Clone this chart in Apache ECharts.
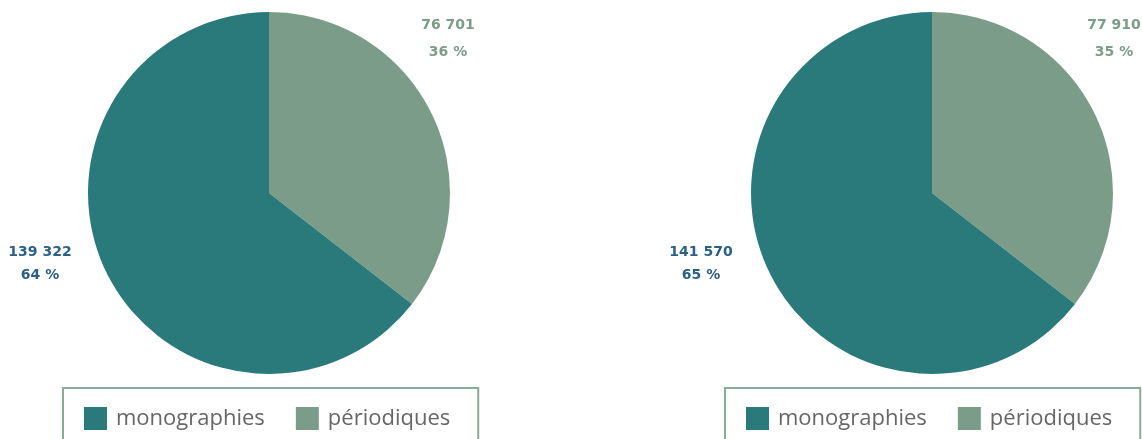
<!DOCTYPE html>
<html><head><meta charset="utf-8">
<script src="https://cdn.jsdelivr.net/npm/echarts@6/dist/echarts.min.js"></script>
<style>html,body{margin:0;padding:0;background:#fff}#c{width:1142px;height:439px}</style>
</head><body><div id="c"></div>
<script>
const categories = ['périodiques', 'monographies'];
const pie1Values = [76701, 139322];
const pie2Values = [77910, 141570];
const pie1Pct = ['36 %', '64 %'];
const pie2Pct = ['35 %', '65 %'];
const sliceColors = ['#7a9c88', '#2a7a7c'];
const labelColors = ['#7a9c88', '#2a5f86'];
const legendOrder = ['monographies', 'périodiques'];

const labelLineHeights = [27, 23];
function fmt(n){ return String(n).replace(/\B(?=(\d{3})+(?!\d))/g, ' '); }
function buildData(vals, pcts){
  return categories.map((c,i)=>({name:c, value:vals[i], pct:pcts[i],
    itemStyle:{color:sliceColors[i]},
    label:{color:labelColors[i], lineHeight:labelLineHeights[i]}}));
}
const labelPos1 = [[448, 38.5], [40, 263.5]];
const labelPos2 = [[1114, 38.5], [701, 263.5]];

const chart = echarts.init(document.getElementById('c'));
const legendBase = {
  orient:'horizontal', data: legendOrder, itemWidth:23, itemHeight:23, itemGap:31,
  icon:'rect', borderColor:'#8aab98', borderWidth:2, padding:[19,28,30,21],
  textStyle:{color:'#666', fontSize:22, fontFamily:'Open Sans', padding:[0,0,0,4]},
  selectedMode:false
};
function pieSeries(vals, pcts, cx, pos){
  return {
    type:'pie', radius:181, center:[cx,193], startAngle:90, clockwise:true,
    silent:true, animation:false,
    data: buildData(vals,pcts),
    label:{show:true, position:'outside', overflow:'none', fontFamily:'DejaVu Sans', fontWeight:'bold', fontSize:14, align:'center',
      formatter: p => fmt(p.value) + '\n' + p.data.pct},
    labelLine:{show:false},
    labelLayout: p => ({x: pos[p.dataIndex][0], y: pos[p.dataIndex][1], align:'center', verticalAlign:'middle'})
  };
}
chart.setOption({
  animation:false,
  legend:[Object.assign({left:63, top:388}, legendBase), Object.assign({left:725, top:388}, legendBase)],
  series:[pieSeries(pie1Values,pie1Pct,269,labelPos1), pieSeries(pie2Values,pie2Pct,932,labelPos2)]
});
</script></body></html>
